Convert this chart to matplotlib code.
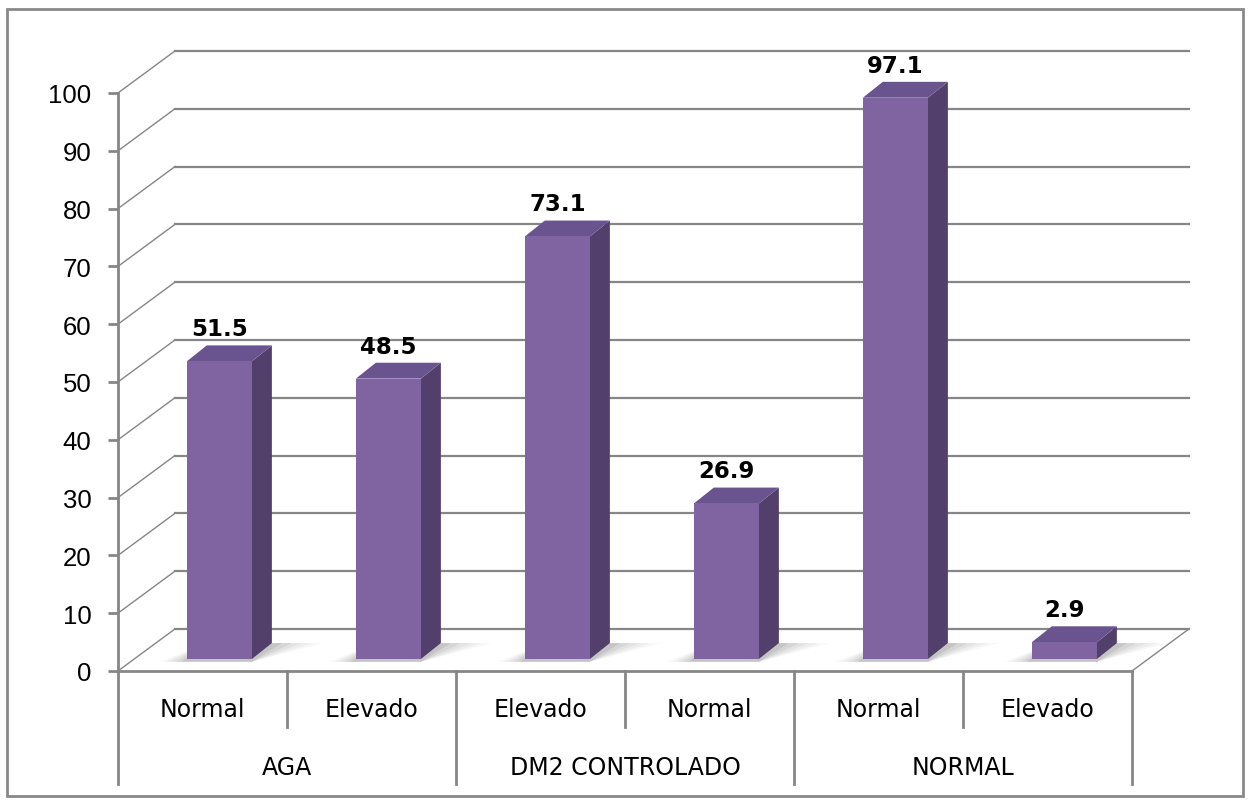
import matplotlib
matplotlib.use("Agg")
import matplotlib.pyplot as plt
from matplotlib.patches import Rectangle, Polygon

# data
groups = ["AGA", "DM2 CONTROLADO", "NORMAL"]
sub_labels = ["Normal", "Elevado", "Elevado", "Normal", "Normal", "Elevado"]
values = [51.5, 48.5, 73.1, 26.9, 97.1, 2.9]
y_ticks = list(range(0, 101, 10))

GRID = "#868686"
FRONT = "#8064A2"
SIDE = "#523F6B"
TOP = "#6A5490"

# fake 3d geometry (category units / value units)
WALL_DX, WALL_DY = 0.337, 7.27     # depth of the floor / side wall
BAR_FX, BAR_FY = 0.10, 2.08        # bars sit a bit behind the front edge
BAR_W = 0.385
BAR_DX, BAR_DY = 0.118, 2.75       # bar depth

fig = plt.figure(figsize=(12.48, 8.03), dpi=100)
ax = fig.add_axes([118 / 1248, 13 / 803, 1082 / 1248, 750 / 803])
n = len(values)
ax.set_xlim(-0.5, -0.5 + 1082 / 169)
ax.set_ylim(-20.42, 109.34)

# walls: diagonal on the left, horizontal grid on the back
for v in y_ticks:
    ax.plot([-0.5, -0.5 + WALL_DX], [v, v + WALL_DY], color=GRID, lw=1.0, zorder=1)
    ax.plot([-0.5 + WALL_DX, n - 0.5 + WALL_DX], [v + WALL_DY, v + WALL_DY],
            color=GRID, lw=1.6, zorder=1)
# right edge of the floor
ax.plot([n - 0.5, n - 0.5 + WALL_DX], [0, WALL_DY], color=GRID, lw=1.0, zorder=1)

# bars
for i, v in enumerate(values):
    x0 = i - BAR_W / 2 + BAR_FX
    y0 = BAR_FY
    # soft floor shadow
    for k, a in enumerate([0.04, 0.05, 0.06, 0.08, 0.1]):
        grow = 0.2 - k * 0.04
        ax.add_patch(Polygon([(x0 - grow * 0.8, y0 - 0.5), (x0 + BAR_W, y0 - 0.5),
                              (x0 + BAR_W + BAR_DX + grow * 1.5, y0 + BAR_DY),
                              (x0 + BAR_DX, y0 + BAR_DY)],
                             closed=True, facecolor="#404040", edgecolor="none",
                             alpha=a, zorder=2))
    ax.add_patch(Polygon([(x0 + BAR_W, y0), (x0 + BAR_W + BAR_DX, y0 + BAR_DY),
                          (x0 + BAR_W + BAR_DX, y0 + v + BAR_DY), (x0 + BAR_W, y0 + v)],
                         closed=True, facecolor=SIDE, edgecolor="none", zorder=3))
    ax.add_patch(Polygon([(x0, y0 + v), (x0 + BAR_W, y0 + v),
                          (x0 + BAR_W + BAR_DX, y0 + v + BAR_DY), (x0 + BAR_DX, y0 + v + BAR_DY)],
                         closed=True, facecolor=TOP, edgecolor="none", zorder=3))
    ax.add_patch(Rectangle((x0, y0), BAR_W, v, facecolor=FRONT, edgecolor="none", zorder=4))
    ax.text(x0 + BAR_W / 2, y0 + v + BAR_DY + 0.9, f"{v:.1f}", ha="center", va="bottom",
            fontsize=16.5, fontweight="bold", family="DejaVu Sans", zorder=5)

# axes styling
for side in ["top", "right"]:
    ax.spines[side].set_visible(False)
ax.spines["left"].set_bounds(0, 100)
ax.spines["left"].set_color(GRID)
ax.spines["left"].set_linewidth(2)
ax.spines["bottom"].set_position(("data", 0))
ax.spines["bottom"].set_bounds(-0.5, n - 0.5)
ax.spines["bottom"].set_color(GRID)
ax.spines["bottom"].set_linewidth(2)
ax.spines["bottom"].set_zorder(6)
ax.set_xticks([])
ax.set_yticks(y_ticks)
ax.set_yticklabels([str(t) for t in y_ticks], family="Liberation Sans", fontsize=18.5)
ax.tick_params(axis="y", length=7, width=2, color=GRID, pad=12)
ax.patch.set_visible(False)

# two-level category table under the axis
for i in range(n + 1):
    bottom = -19.55 if i % 2 == 0 else -9.7
    ax.plot([i - 0.5, i - 0.5], [0, bottom], color=GRID, lw=2, clip_on=False, zorder=6)
for i, lab in enumerate(sub_labels):
    ax.text(i, -6.57, lab, ha="center", va="center", fontsize=17, family="DejaVu Sans")
for g, lab in enumerate(groups):
    ax.text(2 * g + 0.5, -16.6, lab, ha="center", va="center", fontsize=17,
            family="DejaVu Sans")

# outer chart border
fig.patches.append(Rectangle((7 / 1248, 6 / 803), 1236 / 1248, 787 / 803,
                             transform=fig.transFigure, fill=False,
                             edgecolor="#898989", lw=2))

fig.savefig("out.png", dpi=100)
